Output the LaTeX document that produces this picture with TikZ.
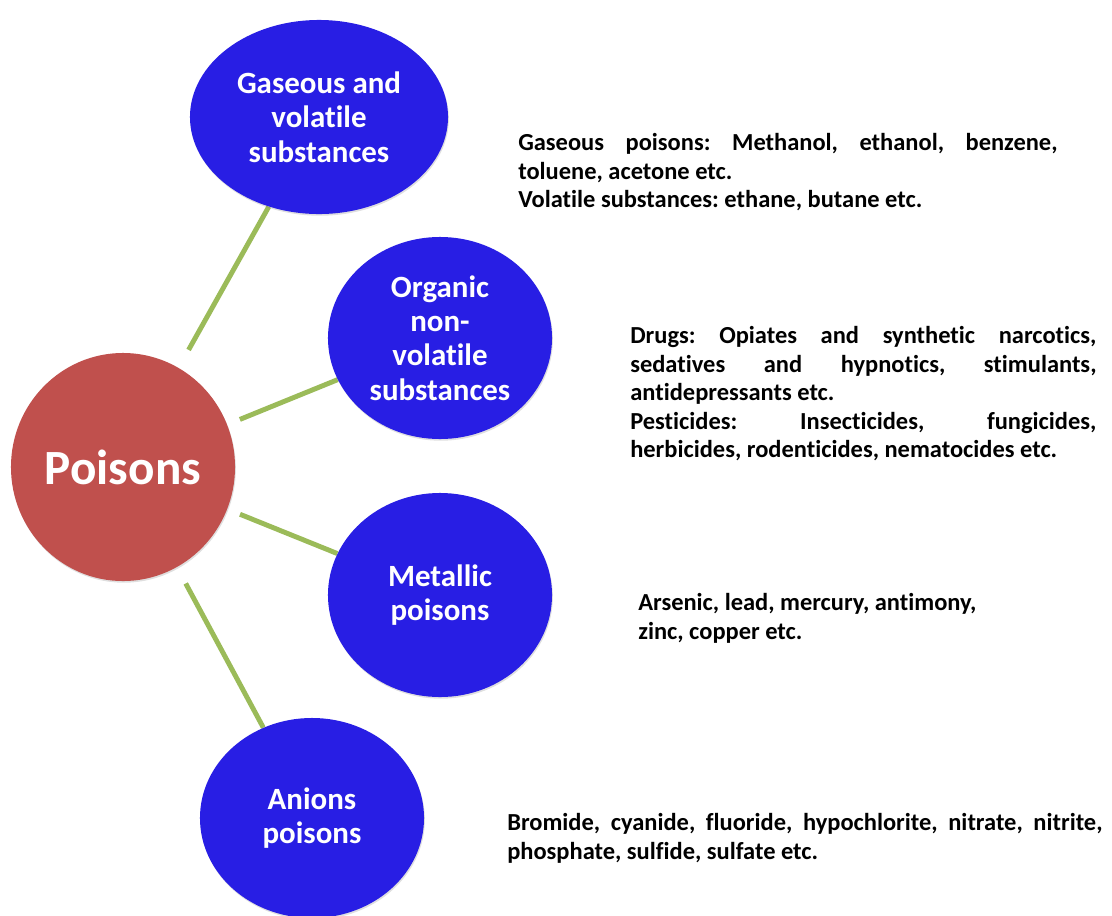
\documentclass[tikz,border=0pt]{standalone}
\usepackage{fontspec}
\setmainfont{Carlito}[Ligatures=NoCommon]
\usetikzlibrary{shapes.geometric, shadows, backgrounds}

\definecolor{hubred}{RGB}{192,80,77}
\definecolor{hubrededge}{RGB}{165,62,60}
\definecolor{ballblue}{RGB}{40,30,228}
\definecolor{ballblueedge}{RGB}{26,18,185}
\definecolor{spokegreen}{RGB}{155,187,89}

\pgfdeclareradialshading{bluerim}{\pgfpointorigin}{color(0bp)=(ballblue); color(41bp)=(ballblue); color(50bp)=(ballblueedge); color(100bp)=(ballblueedge)}
\pgfdeclareradialshading{redrim}{\pgfpointorigin}{color(0bp)=(hubred); color(42bp)=(hubred); color(50bp)=(hubrededge); color(100bp)=(hubrededge)}

\begin{document}
\begin{tikzpicture}[
    x=0.025cm, y=-0.025cm,
    ball/.style={ellipse, shading=bluerim, text=white, align=center, inner sep=0pt, font=\fontsize{22pt}{24.5pt}\selectfont\bfseries, drop shadow={opacity=0.25, shadow xshift=0.6pt, shadow yshift=-1.2pt}},
    hub/.style={ellipse, shading=redrim, text=white, inner sep=0pt, font=\fontsize{35pt}{40pt}\selectfont\bfseries, drop shadow={opacity=0.25, shadow xshift=0.6pt, shadow yshift=-1.2pt}},
    spoke/.style={draw=spokegreen, line width=3.5pt},
    note/.style={anchor=north west, inner sep=0pt, align=justify, font=\fontsize{17.4pt}{20.3pt}\selectfont\bfseries\frenchspacing}
]
\useasboundingbox (0,0) rectangle (1112,915);

\node[hub, minimum width=5.6cm, minimum height=5.7cm] (poisons) at (123,467) {Poisons};
\node[ball, minimum width=6.45cm, minimum height=4.85cm] (gaseous) at (319,117) {Gaseous and\\volatile\\substances};
\node[ball, minimum width=5.6cm, minimum height=5.05cm] (organic) at (440,338) {Organic\\non-\\volatile\\substances};
\node[ball, minimum width=5.6cm, minimum height=5.1cm] (metallic) at (440,595) {Metallic\\poisons};
\node[ball, minimum width=5.6cm, minimum height=5cm] (anions) at (312,818) {Anions\\poisons};

\node[note, text width=13.475cm] (gasnote) at (518,133) {Gaseous poisons: Methanol, ethanol, benzene,\linebreak toluene, acetone etc.\\Volatile substances: ethane, butane etc.};
\node[note, text width=11.65cm] (orgnote) at (630,326) {Drugs: Opiates and synthetic narcotics,\linebreak sedatives and hypnotics, stimulants,\linebreak antidepressants etc.\\Pesticides: Insecticides, fungicides,\linebreak herbicides, rodenticides, nematocides etc.};
\node[note, text width=9cm] (metnote) at (638,593) {Arsenic, lead, mercury, antimony,\\zinc, copper etc.};
\node[note, text width=14.875cm] (aninote) at (507,813) {Bromide, cyanide, fluoride, hypochlorite, nitrate, nitrite,\linebreak phosphate, sulfide, sulfate etc.};

\begin{scope}[on background layer]
\draw[spoke, shorten <=0.51cm] (poisons) -- (gaseous);
\draw[spoke, shorten <=0.34cm] (poisons) -- (organic);
\draw[spoke, shorten <=0.34cm] (poisons) -- (metallic);
\draw[spoke, shorten <=0.46cm] (poisons) -- (anions);
\end{scope}
\end{tikzpicture}
\end{document}
